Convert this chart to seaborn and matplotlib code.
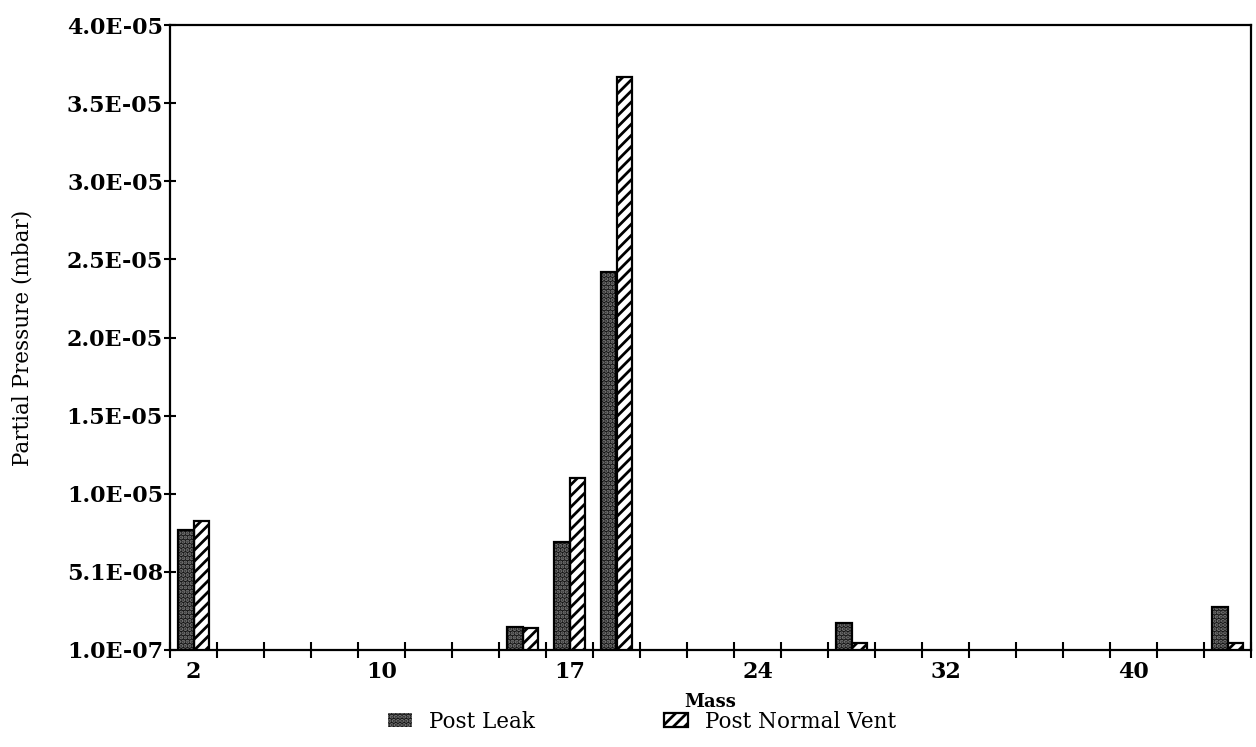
import numpy as np
import pandas as pd
import matplotlib
matplotlib.use("Agg")
import matplotlib.pyplot as plt
import seaborn as sns

# -----------------------------
# Data
# -----------------------------

masses = [2, 4, 6, 8, 10, 12, 14, 16, 17, 18, 20, 22, 24, 26, 28, 30, 32, 34, 36, 38, 40, 42, 44]

post_leak = [7.75e-6, 0, 0, 0, 0, 0, 0, 1.55e-6, 7.0e-6, 2.42e-5, 0, 0, 0, 0,
             1.8e-6, 0, 0, 0, 0, 0, 0, 0, 2.85e-6]
post_vent = [8.35e-6, 0, 0, 0, 0, 0, 0, 1.5e-6, 1.11e-5, 3.67e-5, 0, 0, 0, 0,
             5.5e-7, 0, 0, 0, 0, 0, 0, 0, 5.5e-7]

series_names = ["Post Leak", "Post Normal Vent"]

ytick_labels = ["1.0E-07", "5.1E-08", "1.0E-05", "1.5E-05", "2.0E-05",
                "2.5E-05", "3.0E-05", "3.5E-05", "4.0E-05"]
y_min, y_max = 1.0e-7, 4.0e-5

df = pd.DataFrame({
    "Mass": [str(m) for m in masses] * 2,
    "Pressure": post_leak + post_vent,
    "Series": [series_names[0]] * len(masses) + [series_names[1]] * len(masses),
})

# -----------------------------
# Style
# -----------------------------

sns.set_style("white")
plt.rcParams["font.family"] = ["DejaVu Serif"]
plt.rcParams["hatch.linewidth"] = 2.0
for key in ["text.color", "axes.labelcolor", "xtick.color", "ytick.color"]:
    plt.rcParams[key] = "black"

fig = plt.figure(figsize=(12.56, 7.47), dpi=100)
ax = fig.add_axes([170 / 1256, 1 - 650 / 747, 1081 / 1256, 625 / 747])

sns.barplot(data=df, x="Mass", y="Pressure", hue="Series",
            order=[str(m) for m in masses], hue_order=series_names,
            palette=["#151515", "white"], width=0.66, gap=0,
            legend=False, ax=ax)

# stipple for post leak, diagonal hatch for post vent
for bar in ax.containers[0]:
    bar.set_hatch("....")
    bar.set_edgecolor("#7a7a7a")
    bar.set_linewidth(0)
for bar in ax.containers[1]:
    bar.set_hatch("///")
    bar.set_edgecolor("black")
    bar.set_linewidth(1.6)

# black outline on the stippled bars
for bar in ax.containers[0]:
    ax.add_patch(plt.Rectangle((bar.get_x(), bar.get_y()), bar.get_width(),
                               bar.get_height(), fill=False,
                               edgecolor="black", linewidth=1.6))

# -----------------------------
# Axes
# -----------------------------

ax.set_xlim(-0.5, len(masses) - 0.5)
ax.set_ylim(y_min, y_max)

ax.set_yticks(np.linspace(y_min, y_max, len(ytick_labels)))
ax.set_yticklabels(ytick_labels, fontweight="bold", fontsize=16)

label_idx = list(range(0, len(masses), 4))
ax.set_xticks(label_idx)
ax.set_xticklabels([str(masses[i]) for i in label_idx], fontweight="bold", fontsize=16)
ax.set_xticks(np.arange(-0.5, len(masses)), minor=True)

ax.tick_params(axis="x", which="major", length=0, pad=8, bottom=True)
ax.tick_params(axis="x", which="minor", direction="inout", length=12, width=1.5,
               color="black", bottom=True)
ax.tick_params(axis="y", direction="inout", length=8, width=1.5, color="black", pad=1, left=True)

for s in ax.spines.values():
    s.set_visible(True)
    s.set_color("black")
    s.set_linewidth(1.6)

ax.set_ylabel("Partial Pressure (mbar)", fontsize=15.5, va="center")
ax.yaxis.set_label_coords(-0.136, 0.5)
ax.set_xlabel("Mass", fontweight="bold", fontsize=13, va="center")
ax.xaxis.set_label_coords(0.5, -0.083)

handles = [ax.containers[0][0], ax.containers[1][0]]
fig.legend(handles, series_names, loc="center", bbox_to_anchor=(0.5115, 0.034),
           ncol=2, frameon=False, fontsize=15.5, handlelength=1.1, handleheight=0.6,
           handletextpad=0.8, columnspacing=6, borderpad=0.1)

plt.savefig("out.png", dpi=100)
